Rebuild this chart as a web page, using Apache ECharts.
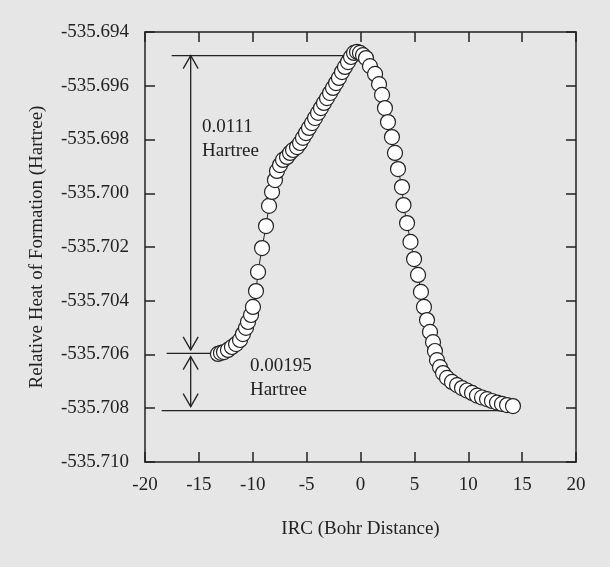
<!DOCTYPE html>
<html>
<head>
<meta charset="utf-8">
<script src="https://cdn.jsdelivr.net/npm/echarts@6/dist/echarts.min.js"></script>
<style>html,body{margin:0;padding:0;background:#e6e6e6;}#c{width:610px;height:567px;}</style>
</head>
<body>
<div id="c"></div>
<script>
// IRC coordinate (Bohr)
const ircX = [
  -13.23, -12.95, -12.67, -12.30, -11.93, -11.55, -11.18, -10.91, -10.63, -10.44,
  -10.16, -9.98, -9.70, -9.51, -9.14, -8.77, -8.49, -8.21, -7.94, -7.75,
  -7.47, -7.19, -6.82, -6.54, -6.26, -5.89, -5.61, -5.34, -5.06, -4.78,
  -4.50, -4.22, -3.94, -3.67, -3.39, -3.11, -2.83, -2.55, -2.27, -2.00,
  -1.72, -1.44, -1.16, -0.88, -0.60, -0.32, -0.05, 0.23, 0.51, 0.88,
  1.35, 1.72, 2.00, 2.27, 2.55, 2.92, 3.20, 3.48, 3.85, 3.99,
  4.32, 4.64, 4.97, 5.34, 5.61, 5.89, 6.17, 6.45, 6.73, 6.91,
  7.10, 7.38, 7.66, 8.03, 8.49, 8.96, 9.42, 9.88, 10.35, 10.81,
  11.28, 11.74, 12.20, 12.67, 13.13, 13.60, 14.15
];
// Relative heat of formation (Hartree)
const heat = [
  -535.70598, -535.70594, -535.70591, -535.70583, -535.70572, -535.70561, -535.70546, -535.70524, -535.70501, -535.70479,
  -535.70453, -535.70423, -535.70364, -535.70293, -535.70204, -535.70122, -535.70047, -535.69995, -535.69951, -535.69917,
  -535.69895, -535.69876, -535.69865, -535.69850, -535.69839, -535.69828, -535.69813, -535.69794, -535.69776, -535.69757,
  -535.69739, -535.69720, -535.69701, -535.69683, -535.69664, -535.69646, -535.69627, -535.69608, -535.69590, -535.69571,
  -535.69549, -535.69530, -535.69512, -535.69493, -535.69478, -535.69474, -535.69478, -535.69486, -535.69497, -535.69527,
  -535.69556, -535.69594, -535.69634, -535.69683, -535.69735, -535.69791, -535.69850, -535.69910, -535.69977, -535.70044,
  -535.70111, -535.70181, -535.70245, -535.70304, -535.70367, -535.70423, -535.70472, -535.70516, -535.70554, -535.70587,
  -535.70621, -535.70647, -535.70669, -535.70687, -535.70702, -535.70714, -535.70725, -535.70734, -535.70743, -535.70753,
  -535.70760, -535.70766, -535.70773, -535.70779, -535.70784, -535.70788, -535.70792
];
// Annotation reference lines
const refLineX0 = [-17.52, -17.99, -18.45];
const refLineX1 = [-0.67, -13.35, 13.57];
const refLineY = [-535.69488, -535.70596, -535.70809];
// Double-headed arrows
const arrowX = [-15.76, -15.76];
const arrowTop = [-535.69488, -535.70608];
const arrowBottom = [-535.70583, -535.70794];
// Notes
const noteText = ['0.0111\nHartree', '0.00195\nHartree'];
const noteX = [-14.71, -10.26];
const noteY = [-535.69800, -535.70689];

const FONT = '"Liberation Serif", "DejaVu Serif", serif';
const INK = '#222';

const chart = echarts.init(document.getElementById('c'), null, {renderer: 'canvas'});

const axisCommon = {
  type: 'value',
  axisLine: {show: true, onZero: false, lineStyle: {color: INK, width: 1.5}},
  axisTick: {show: true, inside: true, length: 10, lineStyle: {color: INK, width: 1.5}},
  splitLine: {show: false}
};

chart.setOption({
  backgroundColor: '#e6e6e6',
  animation: false,
  grid: {left: 145, top: 32, right: 34, bottom: 105, containLabel: false},
  xAxis: [
    Object.assign({}, axisCommon, {
      min: -20, max: 20, interval: 5, position: 'bottom',
      axisLabel: {margin: 14, fontFamily: FONT, fontSize: 19, color: INK},
      name: 'IRC (Bohr Distance)', nameLocation: 'middle', nameGap: 58,
      nameTextStyle: {fontFamily: FONT, fontSize: 19, color: INK}
    }),
    Object.assign({}, axisCommon, {
      min: -20, max: 20, interval: 5, position: 'top',
      axisLabel: {show: false}
    })
  ],
  yAxis: [
    Object.assign({}, axisCommon, {
      min: -535.710, max: -535.694, interval: 0.002, position: 'left',
      axisLabel: {margin: 16, fontFamily: FONT, fontSize: 19, color: INK,
        formatter: v => v.toFixed(3)},
      name: 'Relative Heat of Formation (Hartree)', nameLocation: 'middle', nameGap: 98,
      nameTextStyle: {fontFamily: FONT, fontSize: 19, color: INK}
    }),
    Object.assign({}, axisCommon, {
      min: -535.710, max: -535.694, interval: 0.002, position: 'right',
      axisLabel: {show: false}
    })
  ],
  series: [
    {
      type: 'custom',
      z: 1,
      xAxisIndex: 0, yAxisIndex: 0,
      data: refLineY.map((y, i) => [refLineX0[i], refLineX1[i], y]),
      encode: {x: [0, 1], y: 2},
      renderItem: (params, api) => {
        const p0 = api.coord([api.value(0), api.value(2)]);
        const p1 = api.coord([api.value(1), api.value(2)]);
        return {type: 'line', shape: {x1: p0[0], y1: p0[1], x2: p1[0], y2: p1[1]},
          style: {stroke: INK, lineWidth: 1.3}};
      }
    },
    {
      type: 'custom',
      z: 1,
      xAxisIndex: 0, yAxisIndex: 0,
      data: arrowX.map((x, i) => [x, arrowTop[i], arrowBottom[i]]),
      encode: {x: 0, y: [1, 2]},
      renderItem: (params, api) => {
        const t = api.coord([api.value(0), api.value(1)]);
        const b = api.coord([api.value(0), api.value(2)]);
        const hw = 7.5, hh = 13;
        const st = {stroke: INK, lineWidth: 1.3, fill: null};
        return {type: 'group', children: [
          {type: 'line', shape: {x1: t[0], y1: t[1], x2: b[0], y2: b[1]}, style: st},
          {type: 'polyline', shape: {points: [[t[0] - hw, t[1] + hh], [t[0], t[1]], [t[0] + hw, t[1] + hh]]}, style: st},
          {type: 'polyline', shape: {points: [[b[0] - hw, b[1] - hh], [b[0], b[1]], [b[0] + hw, b[1] - hh]]}, style: st}
        ]};
      }
    },
    {
      type: 'custom',
      z: 1,
      xAxisIndex: 0, yAxisIndex: 0,
      data: noteX.map((x, i) => [x, noteY[i], i]),
      encode: {x: 0, y: 1},
      renderItem: (params, api) => {
        const p = api.coord([api.value(0), api.value(1)]);
        return {type: 'text', x: p[0], y: p[1],
          style: {text: noteText[params.dataIndex], fontFamily: FONT, fontSize: 19,
            lineHeight: 24, fill: INK, align: 'left', verticalAlign: 'middle'}};
      }
    },
    {
      type: 'line',
      z: 3,
      xAxisIndex: 0, yAxisIndex: 0,
      data: ircX.map((x, i) => [x, heat[i]]),
      symbol: 'circle',
      symbolSize: 15,
      showAllSymbol: true,
      itemStyle: {color: '#ffffff', borderColor: '#222', borderWidth: 1.2},
      lineStyle: {color: INK, width: 1}
    }
  ]
});
</script>
</body>
</html>
